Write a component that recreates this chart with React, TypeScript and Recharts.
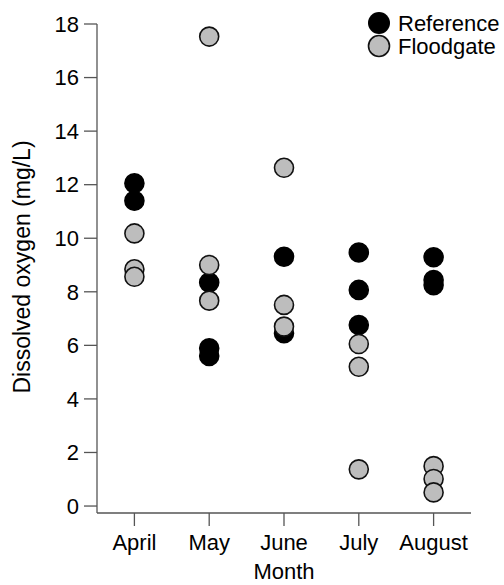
import { ScatterChart, Scatter, XAxis, YAxis, Label } from "recharts";

const months = ["April", "May", "June", "July", "August"];

// dissolved oxygen readings per month (mg/L)
const referenceValues = [
  [12.05, 11.4],
  [8.35, 5.89, 5.6],
  [9.31, 6.45],
  [9.47, 8.07, 6.76],
  [9.29, 8.44, 8.25],
];
const floodgateValues = [
  [10.18, 8.84, 8.56],
  [17.53, 9.0, 7.67],
  [12.63, 7.51, 6.7],
  [6.05, 5.2, 1.37],
  [1.49, 1.01, 0.51],
];
const yTicks = [0, 2, 4, 6, 8, 10, 12, 14, 16, 18];
const monthTicks = [1, 2, 3, 4, 5];

const toPoints = (rows: number[][]) =>
  rows.flatMap((vals, i) => vals.map((y) => ({ x: i + 1, y })));

const referenceData = toPoints(referenceValues);
const floodgateData = toPoints(floodgateValues);

const FONT = "'Liberation Sans', Arial, Helvetica, sans-serif";
const AXIS = "#555";

const Dot = (fill: string, stroke: string) => (props: any) => (
  <circle cx={props.cx} cy={props.cy} r={9.5} fill={fill} stroke={stroke} strokeWidth={1.6} />
);

function LegendBox() {
  return (
    <svg width={140} height={60} style={{ position: "absolute", left: 366, top: 8 }}>
      <circle cx={13} cy={15} r={11} fill="#000" />
      <text x={32} y={23} fontSize={22} fontFamily={FONT} fill="#000">Reference</text>
      <circle cx={13} cy={38} r={10.5} fill="#bdbdbd" stroke="#111" strokeWidth={1.6} />
      <text x={32} y={46} fontSize={22} fontFamily={FONT} fill="#000">Floodgate</text>
    </svg>
  );
}

export default function App() {
  return (
    <div style={{ position: "absolute", left: 0, top: 0, width: 504, height: 585, background: "#fff" }}>
      <ScatterChart
        width={504}
        height={585}
        margin={{ top: 24, right: 33, left: 0, bottom: 0 }}
        style={{ fontFamily: FONT }}
      >
        <XAxis
          type="number"
          dataKey="x"
          domain={[0.5, 5.5]}
          ticks={monthTicks}
          tickFormatter={(v) => months[v - 1]}
          allowDataOverflow
          height={72}
          stroke={AXIS}
          strokeWidth={1.3}
          tickSize={13}
          tickMargin={8}
          tick={{ fill: "#000", fontSize: 22 }}
        >
          <Label value="Month" position="insideBottom" offset={6} fill="#000" fontSize={22} />
        </XAxis>
        <YAxis
          type="number"
          dataKey="y"
          domain={[-0.26, 18]}
          ticks={yTicks}
          allowDataOverflow
          width={97}
          stroke={AXIS}
          strokeWidth={1.3}
          tickSize={13}
          tickMargin={5}
          tick={{ fill: "#000", fontSize: 22 }}
        >
          <Label
            content={() => (
              <text
                x={22}
                y={267}
                transform="rotate(-90 22 267)"
                textAnchor="middle"
                dominantBaseline="central"
                fontSize={23}
                fontFamily={FONT}
                fill="#000"
              >
                Dissolved oxygen (mg/L)
              </text>
            )}
          />
        </YAxis>
        <Scatter
          name="Reference"
          data={referenceData}
          shape={Dot("#000", "#000")}
          isAnimationActive={false}
        />
        <Scatter
          name="Floodgate"
          data={floodgateData}
          shape={Dot("#bdbdbd", "#111")}
          isAnimationActive={false}
        />
      </ScatterChart>
      <LegendBox />
    </div>
  );
}
